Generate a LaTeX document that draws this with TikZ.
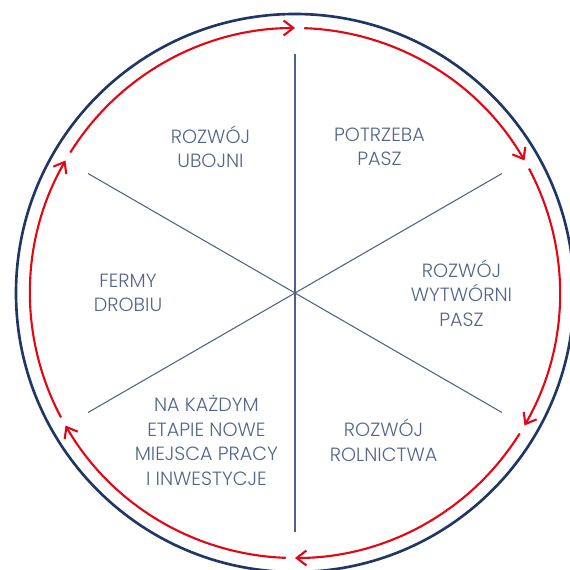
\documentclass[tikz,border=0pt]{standalone}
\usepackage{fontspec}
\setmainfont{Poppins Light}
\usepackage{xcolor}
\usepackage{tikz}
\usetikzlibrary{arrows.meta,calc}
\definecolor{navy}{HTML}{1E3766}
\definecolor{flowred}{HTML}{E30613}
\definecolor{slate}{HTML}{55658A}
\tikzset{
  ring/.style={draw=navy, line width=1.5pt},
  spoke/.style={draw=slate!90!navy, line width=0.6pt},
  flow/.style={draw=flowred, line width=1.2pt, -{Straight Barb[length=5.5pt, width=8.5pt, line width=1.2pt]}},
  stage/.style={align=center, text=slate, font=\fontsize{10.9}{14}\selectfont, inner sep=0pt},
}

\begin{document}
\begin{tikzpicture}
  \clip (-5.9,-5.54) rectangle (5.5,5.86);
  \useasboundingbox (-5.9,-5.54) rectangle (5.5,5.86);
  \coordinate (O) at (0,0);
  % outer ring
  \draw[ring] (O) circle[radius=5.58cm];
  % spokes
  \foreach \a/\n in {90/s1,30/s2,-30/s3,-90/s4,-150/s5,150/s6}
    \coordinate (\n) at (\a:4.78);
  \draw[spoke] (s1) -- (s4);
  \draw[spoke] (s2) -- (s5);
  \draw[spoke] (s3) -- (s6);
  % cycle arrows (clockwise)
  \foreach \a in {90,30,-30,-90,-150,150}
    \draw[flow] ($(O)+(\a+58:5.3)$) arc[start angle=\a+58, end angle=\a, radius=5.3cm];
  % stages
  \node[stage] (ubojnia)   at (120:3.38) {ROZWÓJ\\UBOJNI};
  \node[stage] (pasze)     at (60:3.38)  {POTRZEBA\\PASZ};
  \node[stage] (wytwornia) at (0:3.33)   {ROZWÓJ\\WYTWÓRNI\\PASZ};
  \node[stage] (rolnictwo) at (-59:3.44) {ROZWÓJ\\ROLNICTWA};
  \node[stage] (etapy)     at (-121:3.44) {NA KAŻDYM\\ETAPIE NOWE\\MIEJSCA PRACY\\I INWESTYCJE};
  \node[stage] (fermy)     at (180:3.34) {FERMY\\DROBIU};
\end{tikzpicture}
\end{document}
